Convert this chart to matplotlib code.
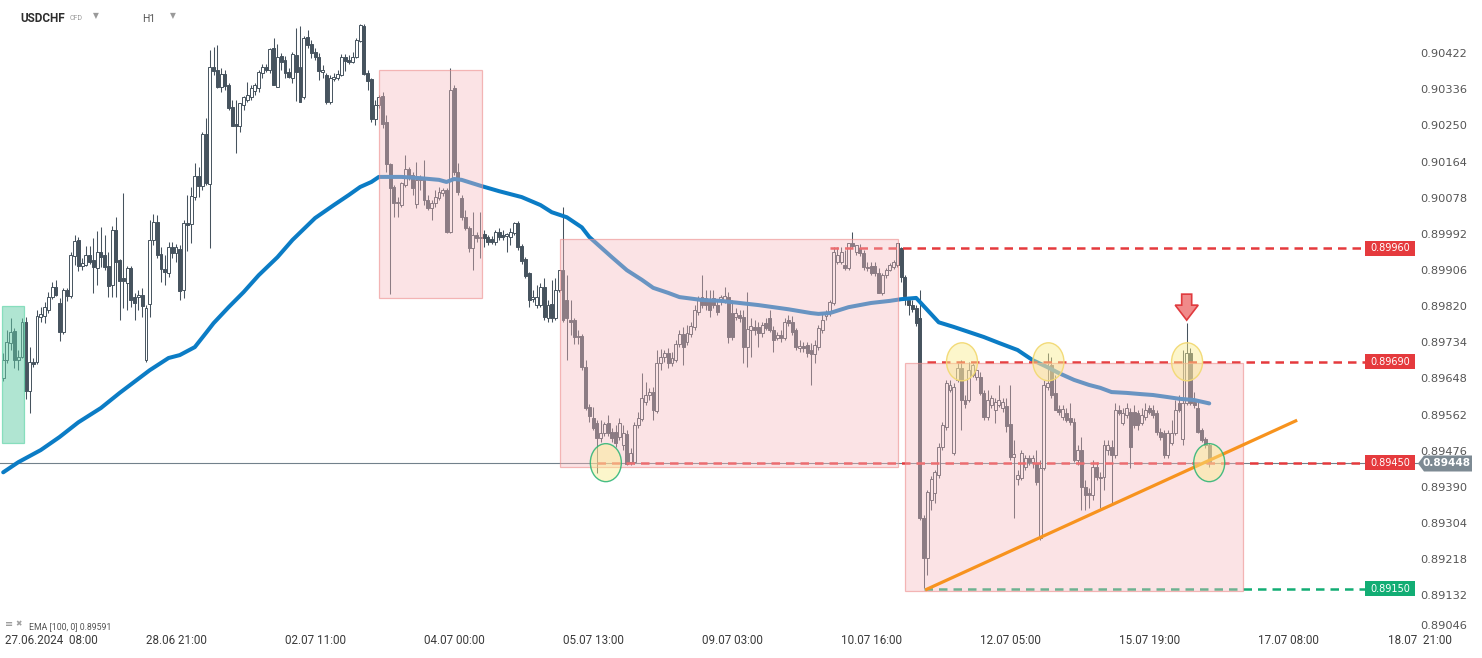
import matplotlib
matplotlib.use("Agg")
import matplotlib.pyplot as plt
from matplotlib.patches import Rectangle, Ellipse, Polygon
import numpy as np

# ---------------- data (USDCHF H1) ----------------
opens = [
0.89651,0.89694,0.89735,0.89764,0.89694,0.89701,0.89784,0.89621,0.89689,0.89689,
0.89796,0.89799,0.89813,0.89844,0.89868,0.89830,0.89761,0.89861,0.89847,0.89942,
0.89980,0.89918,0.89920,0.89944,0.89932,0.89913,0.89951,0.89944,0.89918,0.89873,
0.90004,0.89932,0.89889,0.89878,0.89913,0.89844,0.89844,0.89849,0.89694,0.89827,
0.89980,0.90022,0.89946,0.89911,0.89901,0.89963,0.89949,0.89959,0.89861,0.90020,
0.90017,0.90082,0.90132,0.90109,0.90232,0.90113,0.90391,0.90384,0.90344,0.90374,
0.90349,0.90296,0.90255,0.90251,0.90301,0.90313,0.90320,0.90335,0.90342,0.90377,
0.90391,0.90384,0.90437,0.90344,0.90418,0.90408,0.90379,0.90365,0.90420,0.90391,
0.90320,0.90463,0.90446,0.90427,0.90415,0.90379,0.90372,0.90308,0.90363,0.90365,
0.90372,0.90415,0.90408,0.90403,0.90415,0.90454,0.90489,0.90377,0.90363,0.90268,
0.90301,0.90323,0.90260,0.90160,0.90106,0.90068,0.90063,0.90111,0.90149,0.90134,
0.90065,0.90123,0.90125,0.90075,0.90056,0.90068,0.90080,0.90092,0.90099,0.89999,
0.90342,0.90141,0.90080,0.90034,0.90008,0.89961,0.89992,0.89985,0.89994,0.89987,
0.89982,0.89975,0.89999,0.89992,0.89990,0.89987,0.89997,0.90020,0.89966,0.89935,
0.89901,0.89840,0.89825,0.89825,0.89868,0.89794,0.89827,0.89794,0.89861,0.89908,
0.89837,0.89789,0.89789,0.89749,0.89752,0.89677,0.89582,0.89556,0.89544,0.89509,
0.89520,0.89544,0.89523,0.89523,0.89511,0.89492,0.89518,0.89451,0.89451,0.89539,
0.89554,0.89594,0.89611,0.89618,0.89573,0.89687,0.89701,0.89711,0.89687,0.89694,
0.89732,0.89756,0.89737,0.89756,0.89773,0.89808,0.89844,0.89842,0.89837,0.89842,
0.89825,0.89837,0.89837,0.89844,0.89806,0.89796,0.89801,0.89796,0.89725,0.89766,
0.89773,0.89773,0.89759,0.89782,0.89794,0.89766,0.89747,0.89754,0.89747,0.89789,
0.89784,0.89766,0.89723,0.89728,0.89730,0.89718,0.89708,0.89725,0.89766,0.89799,
0.89806,0.89830,0.89927,0.89927,0.89920,0.89913,0.89973,0.89951,0.89961,0.89949,
0.89915,0.89918,0.89918,0.89901,0.89854,0.89896,0.89908,0.89915,0.89920,0.89961,
0.89891,0.89837,0.89825,0.89818,0.89794,0.89318,0.89223,0.89361,0.89378,0.89421,
0.89487,0.89535,0.89623,0.89473,0.89647,0.89675,0.89599,0.89599,0.89658,0.89653,
0.89653,0.89616,0.89558,0.89587,0.89575,0.89587,0.89580,0.89585,0.89542,0.89463,
0.89411,0.89414,0.89439,0.89461,0.89451,0.89449,0.89271,0.89437,0.89630,0.89682,
0.89616,0.89578,0.89558,0.89568,0.89556,0.89546,0.89456,0.89480,0.89392,0.89378,
0.89373,0.89439,0.89416,0.89416,0.89480,0.89487,0.89468,0.89575,0.89544,0.89563,
0.89570,0.89570,0.89568,0.89544,0.89558,0.89580,0.89575,0.89568,0.89523,0.89520,
0.89468,0.89497,0.89520,0.89592,0.89506,0.89592,0.89711,0.89594,0.89580,0.89528,
0.89506,0.89492]

highs = [
0.89711,0.89766,0.89794,0.89770,0.89718,0.89794,0.89796,0.89725,0.89699,0.89813,
0.89820,0.89832,0.89856,0.89880,0.89885,0.89842,0.89866,0.89866,0.89951,0.89992,
0.89987,0.89937,0.89966,0.89966,0.89985,0.90002,0.90010,0.89992,0.89951,0.90013,
0.90034,0.89935,0.90092,0.89918,0.89918,0.89854,0.89861,0.89866,0.89825,0.90027,
0.90041,0.90039,0.89963,0.89944,0.89975,0.89975,0.89970,0.89968,0.90027,0.90087,
0.90106,0.90163,0.90153,0.90237,0.90270,0.90432,0.90439,0.90444,0.90389,0.90384,
0.90354,0.90313,0.90313,0.90306,0.90323,0.90356,0.90349,0.90354,0.90384,0.90398,
0.90398,0.90437,0.90461,0.90446,0.90425,0.90418,0.90389,0.90427,0.90484,0.90489,
0.90466,0.90480,0.90456,0.90437,0.90425,0.90396,0.90377,0.90372,0.90377,0.90384,
0.90422,0.90422,0.90420,0.90427,0.90461,0.90493,0.90493,0.90384,0.90365,0.90313,
0.90325,0.90332,0.90277,0.90163,0.90111,0.90082,0.90118,0.90182,0.90153,0.90141,
0.90165,0.90134,0.90170,0.90087,0.90075,0.90099,0.90106,0.90104,0.90104,0.90389,
0.90349,0.90163,0.90087,0.90051,0.90013,0.90046,0.89999,0.90046,0.90004,0.89992,
0.89990,0.90004,0.90008,0.90004,0.89997,0.90008,0.90022,0.90025,0.89970,0.89939,
0.89903,0.89861,0.89873,0.89878,0.89889,0.89837,0.89885,0.89889,0.89908,0.90058,
0.89896,0.89837,0.89794,0.89766,0.89756,0.89694,0.89589,0.89582,0.89551,0.89551,
0.89546,0.89563,0.89532,0.89539,0.89556,0.89539,0.89528,0.89485,0.89546,0.89570,
0.89663,0.89642,0.89628,0.89630,0.89718,0.89720,0.89718,0.89723,0.89713,0.89742,
0.89766,0.89773,0.89778,0.89784,0.89825,0.89847,0.89896,0.89861,0.89861,0.89861,
0.89837,0.89849,0.89868,0.89856,0.89837,0.89818,0.89813,0.89813,0.89856,0.89794,
0.89789,0.89784,0.89784,0.89794,0.89813,0.89775,0.89761,0.89766,0.89794,0.89801,
0.89799,0.89770,0.89742,0.89737,0.89737,0.89735,0.89742,0.89778,0.89808,0.89813,
0.89837,0.89963,0.89963,0.89963,0.89956,0.89973,0.89999,0.89968,0.89970,0.89956,
0.89927,0.89927,0.89927,0.89913,0.89901,0.89913,0.89925,0.89932,0.89973,0.89963,
0.89896,0.89844,0.89837,0.89825,0.89861,0.89325,0.89385,0.89418,0.89432,0.89497,
0.89546,0.89647,0.89647,0.89640,0.89689,0.89694,0.89611,0.89689,0.89689,0.89675,
0.89665,0.89623,0.89623,0.89611,0.89604,0.89635,0.89604,0.89604,0.89635,0.89504,
0.89432,0.89480,0.89468,0.89468,0.89468,0.89480,0.89456,0.89647,0.89711,0.89701,
0.89658,0.89587,0.89587,0.89580,0.89592,0.89556,0.89492,0.89511,0.89409,0.89390,
0.89456,0.89451,0.89428,0.89504,0.89504,0.89504,0.89592,0.89587,0.89580,0.89592,
0.89580,0.89587,0.89575,0.89580,0.89592,0.89587,0.89587,0.89575,0.89532,0.89528,
0.89528,0.89551,0.89599,0.89611,0.89718,0.89782,0.89723,0.89618,0.89599,0.89532,
0.89511,0.89497]

lows = [
0.89645,0.89687,0.89718,0.89675,0.89670,0.89699,0.89602,0.89568,0.89677,0.89684,
0.89784,0.89782,0.89806,0.89840,0.89847,0.89740,0.89756,0.89835,0.89842,0.89920,
0.89906,0.89908,0.89918,0.89922,0.89854,0.89873,0.89915,0.89908,0.89844,0.89844,
0.89844,0.89789,0.89818,0.89813,0.89820,0.89789,0.89813,0.89796,0.89689,0.89796,
0.89968,0.89937,0.89880,0.89873,0.89891,0.89937,0.89927,0.89837,0.89842,0.89954,
0.89973,0.90075,0.90082,0.90099,0.90111,0.89961,0.90372,0.90342,0.90332,0.90337,
0.90289,0.90251,0.90187,0.90237,0.90289,0.90308,0.90313,0.90325,0.90332,0.90365,
0.90379,0.90377,0.90349,0.90344,0.90384,0.90365,0.90365,0.90354,0.90311,0.90313,
0.90316,0.90437,0.90413,0.90408,0.90361,0.90365,0.90303,0.90303,0.90358,0.90361,
0.90370,0.90382,0.90398,0.90401,0.90413,0.90451,0.90372,0.90337,0.90260,0.90253,
0.90294,0.90246,0.90141,0.89851,0.90034,0.90034,0.90058,0.90106,0.90123,0.90087,
0.90056,0.90099,0.90063,0.90051,0.90027,0.90058,0.90075,0.90085,0.89997,0.89997,
0.90134,0.90087,0.90027,0.90004,0.89951,0.89908,0.89975,0.89937,0.89963,0.89968,
0.89970,0.89968,0.89980,0.89980,0.89951,0.89968,0.89992,0.89956,0.89922,0.89889,
0.89820,0.89832,0.89818,0.89820,0.89789,0.89784,0.89784,0.89789,0.89856,0.89784,
0.89694,0.89754,0.89732,0.89732,0.89670,0.89575,0.89546,0.89528,0.89425,0.89499,
0.89513,0.89513,0.89499,0.89487,0.89504,0.89480,0.89444,0.89444,0.89446,0.89532,
0.89549,0.89587,0.89599,0.89551,0.89568,0.89670,0.89689,0.89675,0.89680,0.89689,
0.89725,0.89682,0.89730,0.89749,0.89766,0.89801,0.89818,0.89813,0.89796,0.89818,
0.89801,0.89825,0.89830,0.89735,0.89742,0.89789,0.89784,0.89687,0.89677,0.89701,
0.89754,0.89725,0.89749,0.89766,0.89761,0.89713,0.89742,0.89737,0.89742,0.89775,
0.89754,0.89718,0.89713,0.89713,0.89701,0.89635,0.89687,0.89718,0.89759,0.89789,
0.89799,0.89825,0.89922,0.89922,0.89908,0.89908,0.89961,0.89944,0.89942,0.89908,
0.89906,0.89896,0.89894,0.89854,0.89849,0.89889,0.89906,0.89911,0.89915,0.89880,
0.89825,0.89801,0.89808,0.89775,0.89313,0.89152,0.89183,0.89337,0.89354,0.89414,
0.89480,0.89528,0.89618,0.89468,0.89642,0.89528,0.89580,0.89594,0.89653,0.89647,
0.89611,0.89551,0.89551,0.89580,0.89544,0.89582,0.89570,0.89523,0.89456,0.89318,
0.89397,0.89409,0.89432,0.89444,0.89437,0.89397,0.89266,0.89432,0.89623,0.89604,
0.89575,0.89563,0.89551,0.89546,0.89539,0.89451,0.89444,0.89337,0.89337,0.89342,
0.89361,0.89409,0.89342,0.89385,0.89468,0.89354,0.89461,0.89563,0.89539,0.89556,
0.89437,0.89532,0.89528,0.89539,0.89551,0.89565,0.89556,0.89516,0.89504,0.89461,
0.89461,0.89492,0.89516,0.89570,0.89492,0.89587,0.89587,0.89580,0.89520,0.89499,
0.89485,0.89439]

closes = [
0.89694,0.89737,0.89761,0.89694,0.89701,0.89784,0.89621,0.89689,0.89684,0.89799,
0.89803,0.89820,0.89844,0.89868,0.89849,0.89761,0.89861,0.89847,0.89944,0.89978,
0.89918,0.89925,0.89944,0.89927,0.89915,0.89951,0.89939,0.89915,0.89871,0.90004,
0.89927,0.89883,0.89883,0.89913,0.89837,0.89830,0.89849,0.89823,0.89818,0.89980,
0.90022,0.89944,0.89911,0.89903,0.89963,0.89949,0.89963,0.89859,0.90020,0.90015,
0.90085,0.90132,0.90109,0.90232,0.90116,0.90391,0.90382,0.90344,0.90374,0.90347,
0.90294,0.90251,0.90251,0.90306,0.90320,0.90325,0.90342,0.90349,0.90379,0.90391,
0.90384,0.90435,0.90349,0.90415,0.90403,0.90377,0.90367,0.90422,0.90379,0.90308,
0.90461,0.90444,0.90425,0.90415,0.90382,0.90384,0.90308,0.90365,0.90367,0.90374,
0.90415,0.90406,0.90403,0.90415,0.90456,0.90491,0.90374,0.90358,0.90268,0.90301,
0.90320,0.90255,0.90160,0.90104,0.90068,0.90070,0.90116,0.90149,0.90129,0.90104,
0.90123,0.90127,0.90075,0.90056,0.90068,0.90082,0.90094,0.90099,0.89999,0.90337,
0.90141,0.90094,0.90034,0.90008,0.89961,0.89992,0.89985,0.89987,0.89985,0.89975,
0.89975,0.89999,0.89987,0.89987,0.89994,0.89999,0.90020,0.89963,0.89930,0.89894,
0.89837,0.89844,0.89844,0.89868,0.89796,0.89825,0.89794,0.89861,0.89908,0.89789,
0.89794,0.89784,0.89749,0.89752,0.89677,0.89580,0.89561,0.89532,0.89509,0.89520,
0.89542,0.89520,0.89509,0.89497,0.89544,0.89520,0.89446,0.89473,0.89539,0.89556,
0.89604,0.89611,0.89618,0.89575,0.89687,0.89701,0.89711,0.89687,0.89699,0.89732,
0.89756,0.89725,0.89759,0.89775,0.89813,0.89842,0.89825,0.89825,0.89813,0.89825,
0.89808,0.89844,0.89847,0.89749,0.89749,0.89806,0.89794,0.89725,0.89768,0.89775,
0.89766,0.89759,0.89778,0.89770,0.89766,0.89742,0.89754,0.89747,0.89784,0.89782,
0.89761,0.89725,0.89728,0.89723,0.89711,0.89708,0.89730,0.89770,0.89789,0.89808,
0.89832,0.89951,0.89944,0.89951,0.89913,0.89973,0.89966,0.89968,0.89949,0.89915,
0.89913,0.89901,0.89901,0.89854,0.89896,0.89908,0.89920,0.89927,0.89973,0.89891,
0.89847,0.89825,0.89815,0.89782,0.89318,0.89223,0.89380,0.89411,0.89428,0.89487,
0.89539,0.89640,0.89635,0.89630,0.89675,0.89599,0.89589,0.89670,0.89682,0.89670,
0.89616,0.89558,0.89599,0.89604,0.89594,0.89599,0.89594,0.89537,0.89463,0.89470,
0.89420,0.89473,0.89461,0.89451,0.89461,0.89404,0.89437,0.89635,0.89640,0.89611,
0.89575,0.89570,0.89578,0.89551,0.89546,0.89456,0.89480,0.89392,0.89373,0.89373,
0.89439,0.89416,0.89414,0.89492,0.89492,0.89468,0.89575,0.89568,0.89568,0.89580,
0.89487,0.89539,0.89539,0.89563,0.89575,0.89570,0.89563,0.89523,0.89511,0.89468,
0.89520,0.89520,0.89575,0.89575,0.89592,0.89711,0.89592,0.89587,0.89523,0.89504,
0.89492,0.89448]

# EMA(100) at selected bars
ema_idx = [0, 4, 10, 15, 20, 26, 31, 39, 44, 47, 51, 54, 56, 60, 64, 68, 73, 77, 83, 88, 92,
           95, 98, 100, 106, 111, 116, 118, 120, 122, 127, 132, 138, 143, 146, 150, 154, 156, 159, 162, 166,
           170, 173, 177, 180, 186, 191, 196, 201, 209, 215, 217, 220, 225, 231, 236, 239, 243, 246, 249, 253,
           257, 261, 265, 270, 274, 278, 281, 285, 289, 292, 295, 299, 303, 306, 310, 313, 317, 321]
ema_vals = [0.89427, 0.89451, 0.89480, 0.89511, 0.89546, 0.89580, 0.89616, 0.89670, 0.89699, 0.89706,
            0.89725, 0.89759, 0.89782, 0.89820, 0.89856, 0.89896, 0.89939, 0.89980, 0.90032, 0.90063, 0.90087,
            0.90106, 0.90118, 0.90130, 0.90130, 0.90127, 0.90123, 0.90118, 0.90125, 0.90123, 0.90109,
            0.90096, 0.90082, 0.90063, 0.90046, 0.90034, 0.90010, 0.89987, 0.89963, 0.89939, 0.89908,
            0.89885, 0.89866, 0.89854, 0.89844, 0.89837, 0.89835, 0.89830, 0.89825, 0.89815, 0.89806,
            0.89804, 0.89806, 0.89820, 0.89830, 0.89835, 0.89839, 0.89842, 0.89813, 0.89784, 0.89773,
            0.89761, 0.89749, 0.89735, 0.89718, 0.89694, 0.89677, 0.89663, 0.89647, 0.89635, 0.89628,
            0.89618, 0.89616, 0.89613, 0.89611, 0.89606, 0.89602, 0.89599, 0.89591]

time_ticks = [46, 83, 120, 157, 194, 231, 268, 305, 342, 377]
time_labels = ["28.06 21:00", "02.07 11:00", "04.07 00:00", "05.07 13:00", "09.07 03:00",
               "10.07 16:00", "12.07 05:00", "15.07 19:00", "17.07 08:00", "18.07  21:00"]
first_label = "27.06.2024  08:00"
price_ticks = [0.90422, 0.90336, 0.90250, 0.90164, 0.90078, 0.89992, 0.89906, 0.89820, 0.89734,
               0.89648, 0.89562, 0.89476, 0.89390, 0.89304, 0.89218, 0.89132, 0.89046]

levels = [0.89960, 0.89690, 0.89450, 0.89150]
level_start = [220, 246, 158, 245]
level_kind = ["res", "res", "res", "sup"]
last_price = 0.89448
ema_label = "EMA [100, 0] 0.89591"

zones = [(100.0, 127.4, 0.89842, 0.90384),
         (148.2, 238.2, 0.89440, 0.89982),
         (240.0, 330.0, 0.89144, 0.89687)]
green_zone = (-0.3, 5.5, 0.89497, 0.89823)
trend_idx = [245.4, 344.4]
trend_vals = [0.89147, 0.89551]
yellow_touch = [255.2, 278.2, 315.1]   # at 0.89690
green_touch = [160.4, 321.0]           # at 0.89450
arrow_bar = 315

# ---------------- figure ----------------
W, H = 1482, 658
AX_H = 632
fig = plt.figure(figsize=(W / 100, H / 100), dpi=100)
ax = fig.add_axes([0, (H - AX_H) / H, 1, AX_H / H])
XMIN, XMAX = -0.852, 393.6
YMIN, YMAX = 0.89047, 0.90551
ax.set_xlim(XMIN, XMAX)
ax.set_ylim(YMIN, YMAX)
ax.axis("off")
kx = (XMAX - XMIN) / W
ky = (YMAX - YMIN) / AX_H


def X(px):
    return XMIN + px * kx


def Y(py):
    return YMAX - py * ky


dark = "#46535e"
o = np.array(opens); h = np.array(highs); l = np.array(lows); c = np.array(closes)
xi = np.arange(len(c))
up = c >= o
ax.vlines(xi, l, h, color=dark, lw=0.75, zorder=2)
body_lo = np.minimum(o, c)
body_h = np.maximum(np.abs(c - o), ky * 1.2)
ax.bar(xi, body_h, bottom=body_lo, width=0.78,
       color=np.where(up, "white", dark), edgecolor=dark, linewidth=0.7, zorder=2.5)

# EMA
ax.plot(ema_idx, ema_vals, color="#0b7cc5", lw=2.9, solid_joinstyle="round",
        solid_capstyle="round", zorder=3)

# current price line
ax.plot([XMIN, X(1418)], [last_price, last_price], color="#72818b", lw=0.8, zorder=1.5)

# levels
red = "#e53a3d"
green = "#12ad74"
for v, s, k in zip(levels, level_start, level_kind):
    col = red if k == "res" else green
    ax.plot([s, X(1365)], [v, v], color=col, lw=1.8, linestyle=(0, (3.4, 2.4)), zorder=4)
    ax.add_patch(Rectangle((X(1365), v - 7.5 * ky), 50 * kx, 15 * ky, facecolor=col,
                           edgecolor="none", zorder=9, clip_on=False))
    ax.text(X(1390), v, f"{v:.5f}", color="white", fontsize=7, ha="center", va="center",
            family="DejaVu Sans", zorder=10)

# zones
for x0, x1, lo, hi in zones:
    ax.add_patch(Rectangle((x0, lo), x1 - x0, hi - lo, facecolor=(0.97, 0.73, 0.745, 0.4),
                           edgecolor=(0.93, 0.55, 0.55, 0.6), lw=0.9, zorder=5))
x0, x1, lo, hi = green_zone
ax.add_patch(Rectangle((x0, lo), x1 - x0, hi - lo, facecolor=(0.39, 0.80, 0.65, 0.5),
                       edgecolor=(0.45, 0.85, 0.7, 0.8), lw=0.9, zorder=5))

# trend line
ax.plot(trend_idx, trend_vals, color="#f7931e", lw=2.3, solid_capstyle="butt", zorder=6)

# touches
ew, eh = 31 * kx, 38 * ky
for t in yellow_touch:
    ax.add_patch(Ellipse((t, levels[1]), ew, eh, facecolor=(0.98, 0.93, 0.55, 0.45),
                         edgecolor=(0.95, 0.85, 0.45, 0.95), lw=1.0, zorder=7))
for t in green_touch:
    ax.add_patch(Ellipse((t, levels[2]), ew, eh, facecolor=(0.98, 0.93, 0.55, 0.45),
                         edgecolor=(0.15, 0.70, 0.45, 0.85), lw=1.0, zorder=7))

# arrow above spike
tipx, tipy = arrow_bar, highs[arrow_bar] + 3 * ky
shape = [(-5, 26), (5, 26), (5, 15), (11.5, 15), (0, 0), (-11.5, 15), (-5, 15)]
ax.add_patch(Polygon([(tipx + dx * kx, tipy + dy * ky) for dx, dy in shape], closed=True,
                     facecolor="#f08a8a", edgecolor="#e03a3e", lw=1.2, zorder=8))

# price axis labels
for p in price_ticks:
    yy = p if p > 0.8905 else Y(626)
    ax.text(X(1420), yy, f"{p:.5f}", fontsize=8.2, color="#555555", ha="left", va="center",
            family="DejaVu Sans", zorder=8)

# last price tag
tag = [(1418, 464), (1424, 456), (1472, 456), (1472, 472), (1424, 472)]
ax.add_patch(Polygon([(X(a), last_price + (464 - b) * ky) for a, b in tag], closed=True,
                     facecolor="#7d8a93", edgecolor="none", zorder=11, clip_on=False))
ax.text(X(1447), last_price, f"{last_price:.5f}", fontsize=7.6, color="white", weight="bold",
        ha="center", va="center", family="DejaVu Sans", zorder=12)

# time labels
tfam = ["Liberation Sans Narrow", "Roboto"]
for t, lab in zip(time_ticks, time_labels):
    ax.text(t, Y(640), lab, fontsize=8.4, color="#3a3a3a", ha="center", va="center", family=tfam)
ax.text(X(5), Y(640), first_label, fontsize=8.4, color="#3a3a3a", ha="left", va="center", family=tfam)

# header
ax.text(X(20), Y(18), "USDCHF", fontsize=8.5, weight="bold", color="#2e2e2e", va="center",
        family="Roboto")
ax.text(X(70), Y(19), "CFD", fontsize=5, color="#9a9a9a", va="center", family="Roboto")
ax.text(X(96), Y(16), "\u25bc", fontsize=5.5, color="#9a9a9a", va="center", ha="center",
        family="DejaVu Sans")
ax.text(X(142), Y(19), "H1", fontsize=7.5, color="#555555", va="center", family="Roboto")
ax.text(X(173), Y(16), "\u25bc", fontsize=5.5, color="#9a9a9a", va="center", ha="center",
        family="DejaVu Sans")

# indicator legend
ax.text(X(5), Y(624), "\u2261", fontsize=7, color="#8a8a8a", va="center", family="DejaVu Sans")
ax.text(X(15), Y(624), "\u2716", fontsize=5.5, color="#a0a0a0", va="center", family="DejaVu Sans")
ax.text(X(29), Y(627), ema_label, fontsize=6.3, color="#555555", va="center", family=tfam)

fig.savefig("out.png", dpi=100, facecolor="white")
